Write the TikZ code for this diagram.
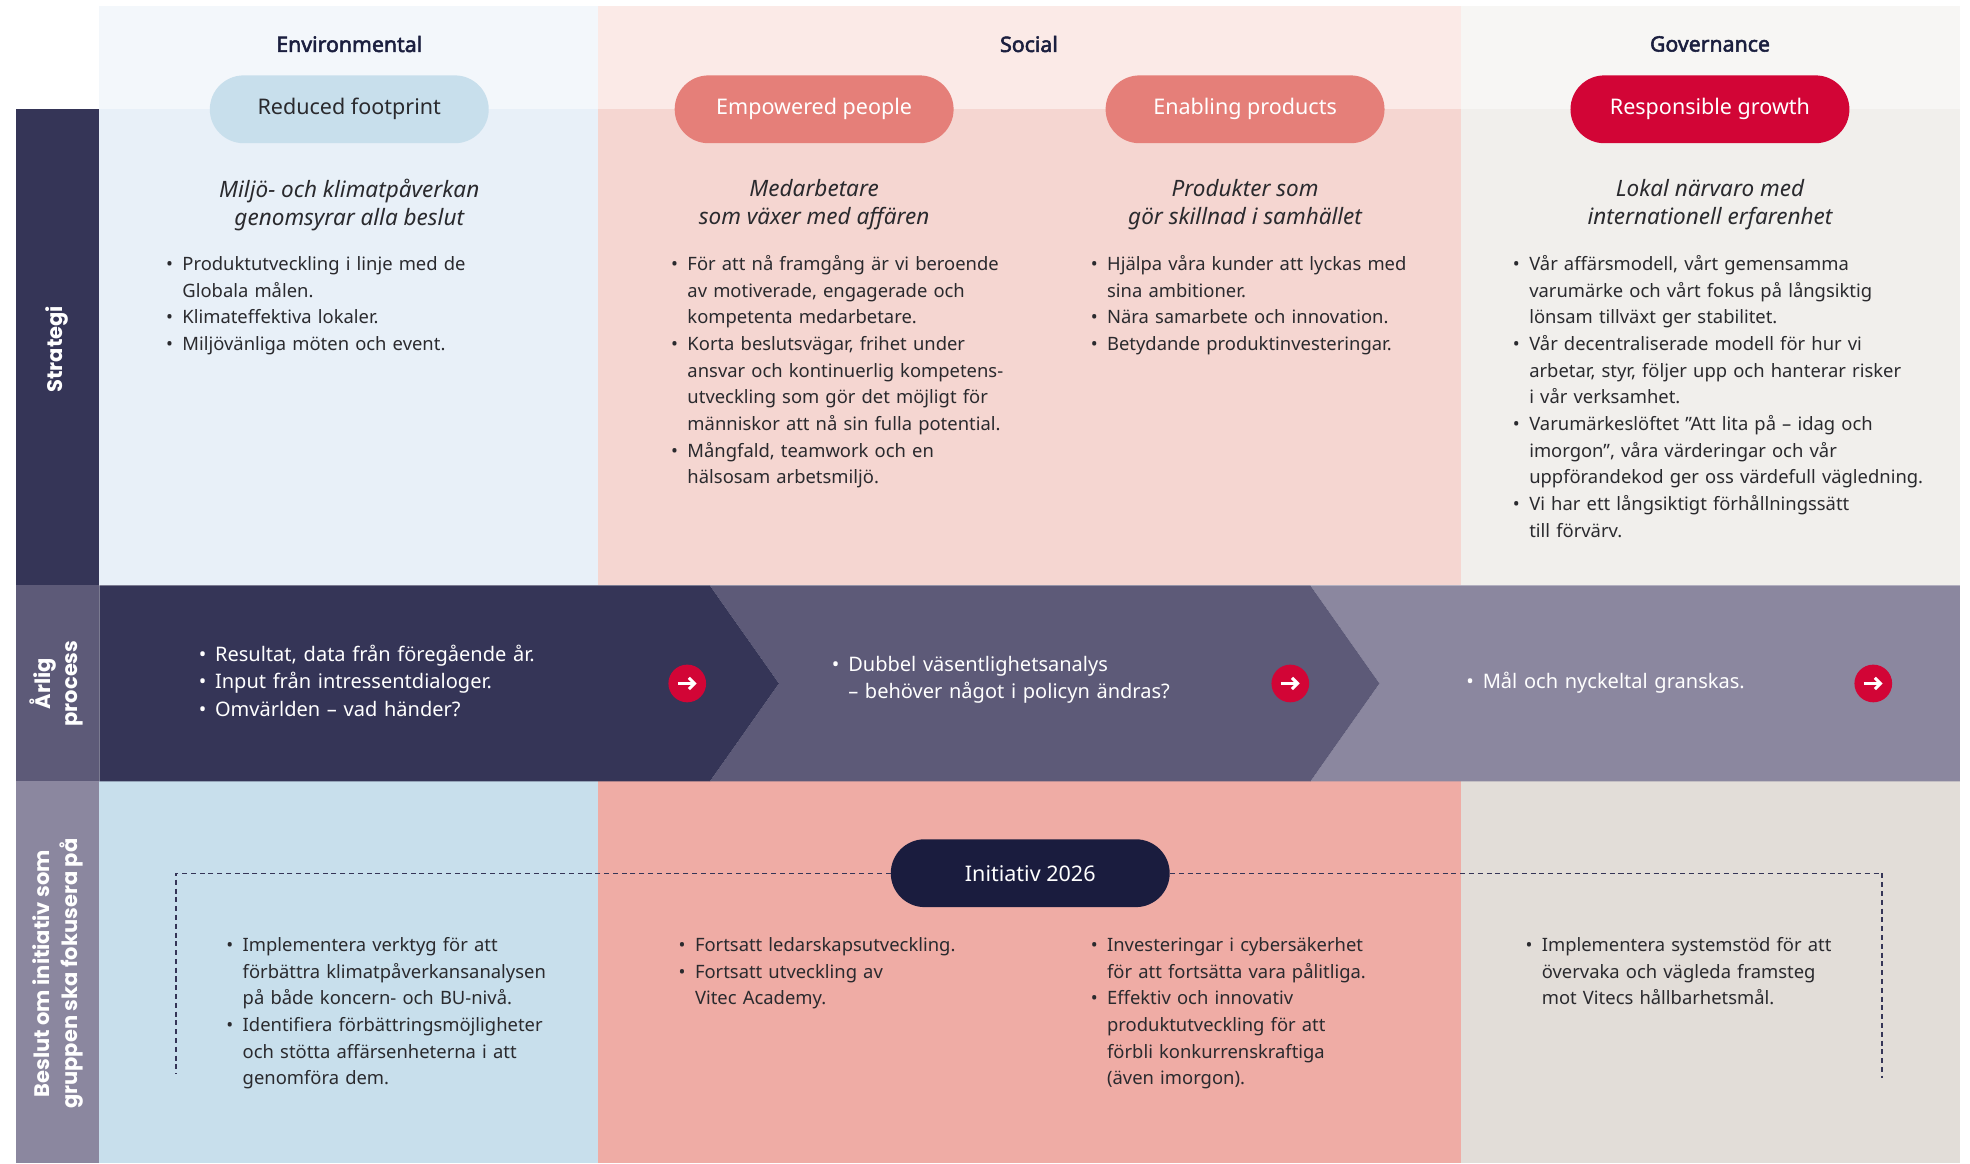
\documentclass[tikz,border=0pt]{standalone}
\usepackage{fontspec}
\setmainfont{Noto Sans}[AutoFakeBold=2.5]
\newfontfamily\sidefont{Poppins}
\usetikzlibrary{shapes,shapes.geometric,shapes.misc,calc,positioning,arrows.meta}

\definecolor{navy}{HTML}{1B1F3F}
\definecolor{txt}{HTML}{2A2A2E}
\definecolor{envHead}{HTML}{F3F7FB}
\definecolor{envMain}{HTML}{E8F0F8}
\definecolor{envLow}{HTML}{C8DFEC}
\definecolor{socHead}{HTML}{FBEAE7}
\definecolor{socMain}{HTML}{F5D6D1}
\definecolor{socLow}{HTML}{EFACA5}
\definecolor{socPill}{HTML}{E57F79}
\definecolor{govHead}{HTML}{F7F6F4}
\definecolor{govMain}{HTML}{F1EFEC}
\definecolor{govLow}{HTML}{E2DDD8}
\definecolor{crimson}{HTML}{D20536}
\definecolor{procA}{HTML}{353557}
\definecolor{procB}{HTML}{5D5A78}
\definecolor{procC}{HTML}{8B879F}
\definecolor{initPill}{HTML}{1A1C3E}

\newcommand\bitem{\par\noindent\hangindent=13bp\hangafter=1\hbox to 13bp{\strut\textbullet\hfil}}

\begin{document}
\begin{tikzpicture}
	[x=1bp,y=-1bp,every node/.style={inner sep=0pt,font=\fontsize{14.7}{21.3}\selectfont},
	head/.style={text=navy,font=\fontsize{17}{19}\selectfont\bfseries},
	pill/.style={shape=rounded rectangle,minimum width=222bp,minimum height=54bp,
		font=\fontsize{17.2}{20}\selectfont},
	sub/.style={align=center,text=txt,font=\fontsize{18}{22}\selectfont\itshape},
	lst/.style={anchor=north west,text width=420bp,align=left,text=txt},
	proc/.style={lst,text=white,font=\fontsize{16}{22}\selectfont},
	side/.style={rotate=90,align=center,text=white,
		font=\sidefont\fontsize{16.8}{22}\selectfont\bfseries},
	go/.style={shape=circle,fill=crimson,minimum size=30bp},
	dashline/.style={draw=procA,line width=1bp,dash pattern=on 4bp off 3bp}]
	\useasboundingbox[fill=white] (0,0) rectangle (1568,926);
	\foreach \xa/\xb/\ca/\cb/\cc in {79/476/envHead/envMain/envLow,
		476/1163/socHead/socMain/socLow,1163/1560/govHead/govMain/govLow}
	{
		\fill[\ca] (\xa,5) rectangle (\xb,87);
		\fill[\cb] (\xa,87) rectangle (\xb,466);
		\fill[\cc] (\xa,622) rectangle (\xb,926);
	}
	\fill[procA] (13,87) rectangle (79,466);
	\fill[procB] (13,466) rectangle (79,622);
	\fill[procC] (13,622) rectangle (79,926);
	\fill[procC] (1043,466) -- (1560,466) -- (1560,622) -- (1043,622) -- (1098,544) -- cycle;
	\fill[procB] (565,466) -- (1043,466) -- (1098,544) -- (1043,622) -- (565,622) -- (620,544) -- cycle;
	\fill[procA] (79,466) -- (565,466) -- (620,544) -- (565,622) -- (79,622) -- cycle;
	
	\node[side] (lstrat) at (45,278) {Strategi};
	\node[side] (lproc) at (45,544) {Årlig\\process};
	\node[side] (lbeslut) at (46,775) {Beslut om initiativ som\\gruppen ska fokusera på};
	
	\node[head] (envt) at (278,35) {Environmental};
	\node[head] (soct) at (819,35) {Social};
	\node[head] (govt) at (1361,35) {Governance};
	
	\node[pill,fill=envLow,text=txt] (envp) at (278,87) {Reduced footprint};
	\node[pill,fill=socPill,text=white] (peoplep) at (648,87) {Empowered people};
	\node[pill,fill=socPill,text=white] (prodp) at (991,87) {Enabling products};
	\node[pill,fill=crimson,text=white] (govp) at (1361,87) {Responsible growth};
	
	\node[sub] (envs) at (278,163) {Miljö- och klimatpåverkan\\genomsyrar alla beslut};
	\node[sub] (peoples) at (648,163) {Medarbetare\\som växer med affären};
	\node[sub] (prods) at (991,163) {Produkter som\\gör skillnad i samhället};
	\node[sub] (govs) at (1361,163) {Lokal närvaro med\\internationell erfarenhet};
	
	\node[lst] (envl) at (132,194) {\bitem Produktutveckling i linje med de\newline Globala målen.
		\bitem Klimateffektiva lokaler.
		\bitem Miljövänliga möten och event.\par};
	\node[lst] (peoplel) at (534,194) {\bitem För att nå framgång är vi beroende\newline av motiverade, engagerade och\newline kompetenta medarbetare.
		\bitem Korta beslutsvägar, frihet under\newline ansvar och kontinuerlig kompetens-\newline utveckling som gör det möjligt för\newline människor att nå sin fulla potential.
		\bitem Mångfald, teamwork och en\newline hälsosam arbetsmiljö.\par};
	\node[lst] (prodl) at (868,194) {\bitem Hjälpa våra kunder att lyckas med\newline sina ambitioner.
		\bitem Nära samarbete och innovation.
		\bitem Betydande produktinvesteringar.\par};
	\node[lst] (govl) at (1204,194) {\bitem Vår affärsmodell, vårt gemensamma\newline varumärke och vårt fokus på långsiktig\newline lönsam tillväxt ger stabilitet.
		\bitem Vår decentraliserade modell för hur vi\newline arbetar, styr, följer upp och hanterar risker\newline i vår verksamhet.
		\bitem Varumärkeslöftet ”Att lita på – idag och\newline imorgon”, våra värderingar och vår\newline uppförandekod ger oss värdefull vägledning.
		\bitem Vi har ett långsiktigt förhållningssätt\newline till förvärv.\par};
	
	\node[proc] (procl1) at (158,504) {\bitem Resultat, data från föregående år.
		\bitem Input från intressentdialoger.
		\bitem Omvärlden – vad händer?\par};
	\node[proc] (procl2) at (662,512) {\bitem Dubbel väsentlighetsanalys\newline – behöver något i policyn ändras?\par};
	\node[proc] (procl3) at (1167,526) {\bitem Mål och nyckeltal granskas.\par};
	\foreach \n/\x in {go1/547,go2/1027,go3/1491}
	{
		\node[go] (\n) at (\x,544) {};
		\draw[white,line width=2.4bp,-{Straight Barb[length=4.5bp,width=9bp]}] ([xshift=-7.5bp]\n.center) -- ([xshift=7.5bp]\n.center);
	}
	
	\node[pill,fill=initPill,text=white] (init) at (820,695) {Initiativ 2026};
	\coordinate (dl) at (140,695);
	\coordinate (dlb) at (140,855);
	\coordinate (dr) at (1498,695);
	\coordinate (drb) at (1498,858);
	\draw[dashline] (init.west) -- (dl) -- (dlb);
	\draw[dashline] (init.east) -- (dr) -- (drb);
	
	\node[lst] (envb) at (180,736) {\bitem Implementera verktyg för att\newline förbättra klimatpåverkansanalysen\newline på både koncern- och BU-nivå.
		\bitem Identifiera förbättringsmöjligheter\newline och stötta affärsenheterna i att\newline genomföra dem.\par};
	\node[lst] (peopleb) at (540,736) {\bitem Fortsatt ledarskapsutveckling.
		\bitem Fortsatt utveckling av\newline Vitec Academy.\par};
	\node[lst] (prodb) at (868,736) {\bitem Investeringar i cybersäkerhet\newline för att fortsätta vara pålitliga.
		\bitem Effektiv och innovativ\newline produktutveckling för att\newline förbli konkurrenskraftiga\newline (även imorgon).\par};
	\node[lst] (govb) at (1214,736) {\bitem Implementera systemstöd för att\newline övervaka och vägleda framsteg\newline mot Vitecs hållbarhetsmål.\par};
\end{tikzpicture}
\end{document}
